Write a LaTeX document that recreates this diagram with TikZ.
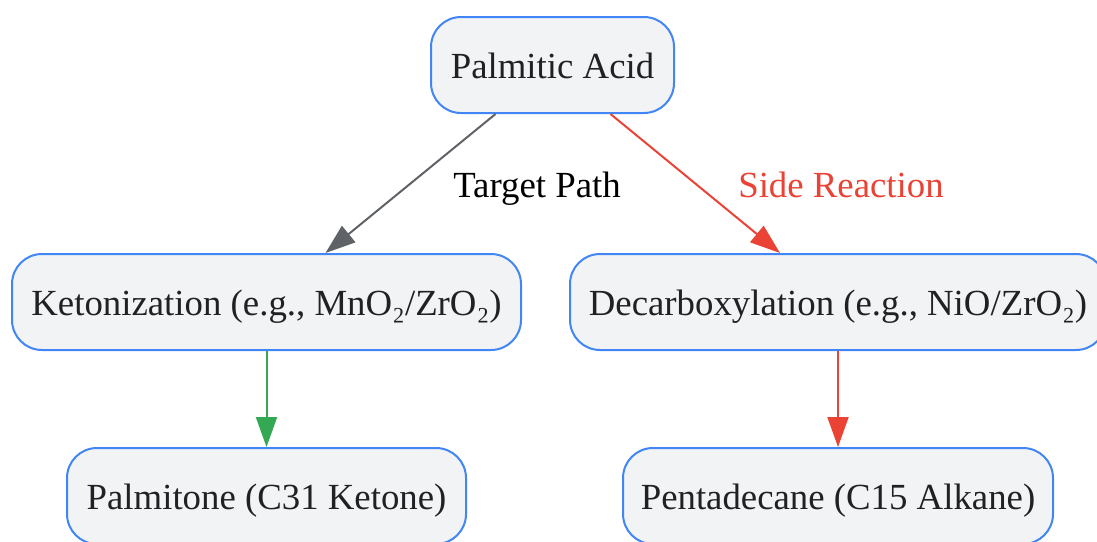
\documentclass[tikz,border=0pt]{standalone}
\usepackage{fontspec}
\setmainfont{Liberation Serif}
\usetikzlibrary{arrows.meta,calc,positioning}
\definecolor{boxline}{HTML}{4285F4}
\definecolor{boxfill}{HTML}{F1F3F4}
\definecolor{boxtext}{HTML}{202124}
\definecolor{pathgray}{HTML}{5F6368}
\definecolor{sidered}{HTML}{EA4335}
\definecolor{okgreen}{HTML}{34A853}
\tikzset{
  stage/.style={draw=boxline,fill=boxfill,text=boxtext,line width=1pt,rounded corners=15pt,
    minimum height=48pt,inner xsep=0pt,text height=14pt,text depth=0.5pt,
    font=\fontsize{18.4}{22}\selectfont},
  flow/.style={line width=1pt,-{Triangle[length=15pt,width=10.5pt]}},
  note/.style={anchor=base,font=\fontsize{18.4}{22}\selectfont}
}
\begin{document}
\begin{tikzpicture}[x=0.5pt,y=-0.5pt,line join=round]
\useasboundingbox (0,0) rectangle (1097,541);
\node[stage,minimum width=121.5pt] (pa) at (552.5,65) {Palmitic Acid};
\node[stage,minimum width=254.5pt] (ket) at (266.5,302) {Ketonization (e.g., MnO₂/ZrO₂)};
\node[stage,minimum width=268pt] (dec) at (838,302) {Decarboxylation (e.g., NiO/ZrO₂)};
\node[stage,minimum width=199.5pt] (ketone) at (266.5,496) {Palmitone (C31 Ketone)};
\node[stage,minimum width=215pt] (alk) at (838,496) {Pentadecane (C15 Alkane)};
\draw[flow,pathgray] ($(pa.south)+(-57,0)$) -- ($(ket.north)+(59,0)$);
\draw[flow,sidered] ($(pa.south)+(58,0)$) -- ($(dec.north)+(-58,0)$);
\draw[flow,okgreen] (ket) -- (ketone);
\draw[flow,sidered] (dec) -- (alk);
\node[note] (tp) at (537,197) {Target Path};
\node[note,text=sidered] (sr) at (841,197) {Side Reaction};
\end{tikzpicture}
\end{document}
